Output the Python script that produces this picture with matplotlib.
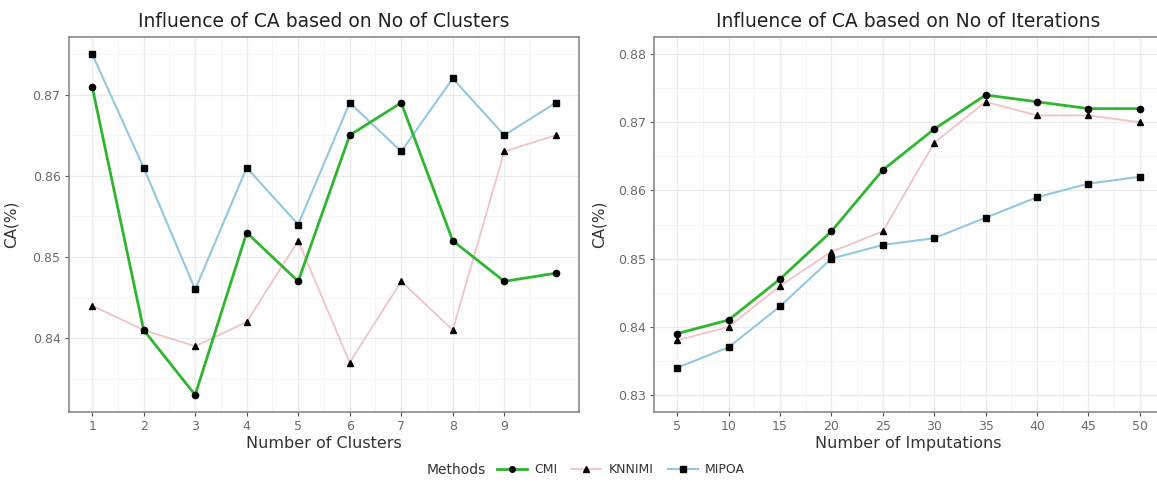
import matplotlib
matplotlib.use('Agg')
import matplotlib.pyplot as plt
from matplotlib.lines import Line2D
import numpy as np

# a wide sans font, the reference text looks horizontally stretched
plt.rcParams['font.family'] = ['DejaVu Sans']

# Left panel: number of clusters
clusters = [1, 2, 3, 4, 5, 6, 7, 8, 9, 10]
cmi_clusters = [0.871, 0.841, 0.833, 0.853, 0.847, 0.865, 0.869, 0.852, 0.847, 0.848]
knnimi_clusters = [0.844, 0.841, 0.839, 0.842, 0.852, 0.837, 0.847, 0.841, 0.863, 0.865]
mipoa_clusters = [0.875, 0.861, 0.846, 0.861, 0.854, 0.869, 0.863, 0.872, 0.865, 0.869]

# Right panel: number of imputations
imputations = [5, 10, 15, 20, 25, 30, 35, 40, 45, 50]
cmi_iter = [0.839, 0.841, 0.847, 0.854, 0.863, 0.869, 0.874, 0.873, 0.872, 0.872]
knnimi_iter = [0.838, 0.840, 0.846, 0.851, 0.854, 0.867, 0.873, 0.871, 0.871, 0.870]
mipoa_iter = [0.834, 0.837, 0.843, 0.850, 0.852, 0.853, 0.856, 0.859, 0.861, 0.862]

methods = ['CMI', 'KNNIMI', 'MIPOA']
colors = {'CMI': '#2fb52f', 'KNNIMI': '#f4c2c2', 'MIPOA': '#92c8e4'}
markers = {'CMI': 'o', 'KNNIMI': '^', 'MIPOA': 's'}
widths = {'CMI': 2.0, 'KNNIMI': 1.3, 'MIPOA': 1.5}

fig = plt.figure(figsize=(11.57, 4.82), dpi=100)
ax_l = fig.add_axes([0.0596, 0.1452, 0.4408, 0.778])
ax_r = fig.add_axes([0.5653, 0.1452, 0.4399, 0.778])


def style_axis(ax, xmaj, xmin, ymaj, ymin):
    ax.set_xticks(xmaj)
    ax.set_xticks(xmin, minor=True)
    ax.set_yticks(ymaj)
    ax.set_yticks(ymin, minor=True)
    ax.grid(True, which='major', color='#ebebeb', linewidth=0.9)
    ax.grid(True, which='minor', color='#f4f4f4', linewidth=0.6)
    ax.set_axisbelow(True)
    for s in ax.spines.values():
        s.set_color('#8a8a8a')
        s.set_linewidth(1.2)
    ax.tick_params(which='major', length=3, color='#555555', labelcolor='#6b6b6b',
                   labelsize=9, pad=3)
    ax.tick_params(which='minor', length=0)


series_l = {'CMI': cmi_clusters, 'KNNIMI': knnimi_clusters, 'MIPOA': mipoa_clusters}
series_r = {'CMI': cmi_iter, 'KNNIMI': knnimi_iter, 'MIPOA': mipoa_iter}

for m in ['MIPOA', 'KNNIMI', 'CMI']:
    ax_l.plot(clusters, series_l[m], color=colors[m], linewidth=widths[m], zorder=2)
    ax_r.plot(imputations, series_r[m], color=colors[m], linewidth=widths[m], zorder=2)
for m in methods:
    ax_l.plot(clusters, series_l[m], linestyle='none', marker=markers[m],
              color='black', markersize=4.5, zorder=3)
    ax_r.plot(imputations, series_r[m], linestyle='none', marker=markers[m],
              color='black', markersize=4.5, zorder=3)

style_axis(ax_l, range(1, 10), np.arange(1.5, 10.5, 1.0),
           [0.84, 0.85, 0.86, 0.87], [0.835, 0.845, 0.855, 0.865, 0.875])
ax_l.set_xlim(0.55, 10.45)
ax_l.set_ylim(0.8309, 0.8771)
ax_l.set_yticklabels(['0.84', '0.85', '0.86', '0.87'])

style_axis(ax_r, imputations, np.arange(7.5, 55, 5.0),
           [0.83, 0.84, 0.85, 0.86, 0.87, 0.88],
           [0.835, 0.845, 0.855, 0.865, 0.875])
ax_r.set_xlim(2.75, 52.25)
ax_r.set_ylim(0.8275, 0.8825)
ax_r.set_yticklabels(['0.83', '0.84', '0.85', '0.86', '0.87', '0.88'])

ax_l.set_title('Influence of CA based on No of Clusters', fontsize=13.5, pad=7,
               color='#222222')
ax_r.set_title('Influence of CA based on No of Iterations', fontsize=13.5, pad=7,
               color='#222222')
ax_l.set_xlabel('Number of Clusters', fontsize=11.5, labelpad=2, color='#333333')
ax_r.set_xlabel('Number of Imputations', fontsize=11.5, labelpad=2, color='#333333')
ax_l.set_ylabel('CA(%)', fontsize=11, color='#333333')
ax_r.set_ylabel('CA(%)', fontsize=11, color='#333333')
ax_l.yaxis.set_label_coords(-0.098, 0.5)
ax_r.yaxis.set_label_coords(-0.094, 0.5)

# legend: "Methods" label inline, then the three keys
fig.text(0.369, 0.025, 'Methods', fontsize=10, va='center', ha='left', color='#333333')
handles = [Line2D([0], [0], color=colors[m], linewidth=widths[m], marker=markers[m],
                  markerfacecolor='black', markeredgecolor='black', markersize=4)
           for m in methods]
leg = fig.legend(handles, methods, loc='center left', bbox_to_anchor=(0.422, 0.025),
                 ncol=3, frameon=False, fontsize=9, handlelength=2.4,
                 handletextpad=0.6, columnspacing=1.1, borderpad=0.2)
for t in leg.get_texts():
    t.set_color('#333333')

fig.savefig('out.png', dpi=100)
